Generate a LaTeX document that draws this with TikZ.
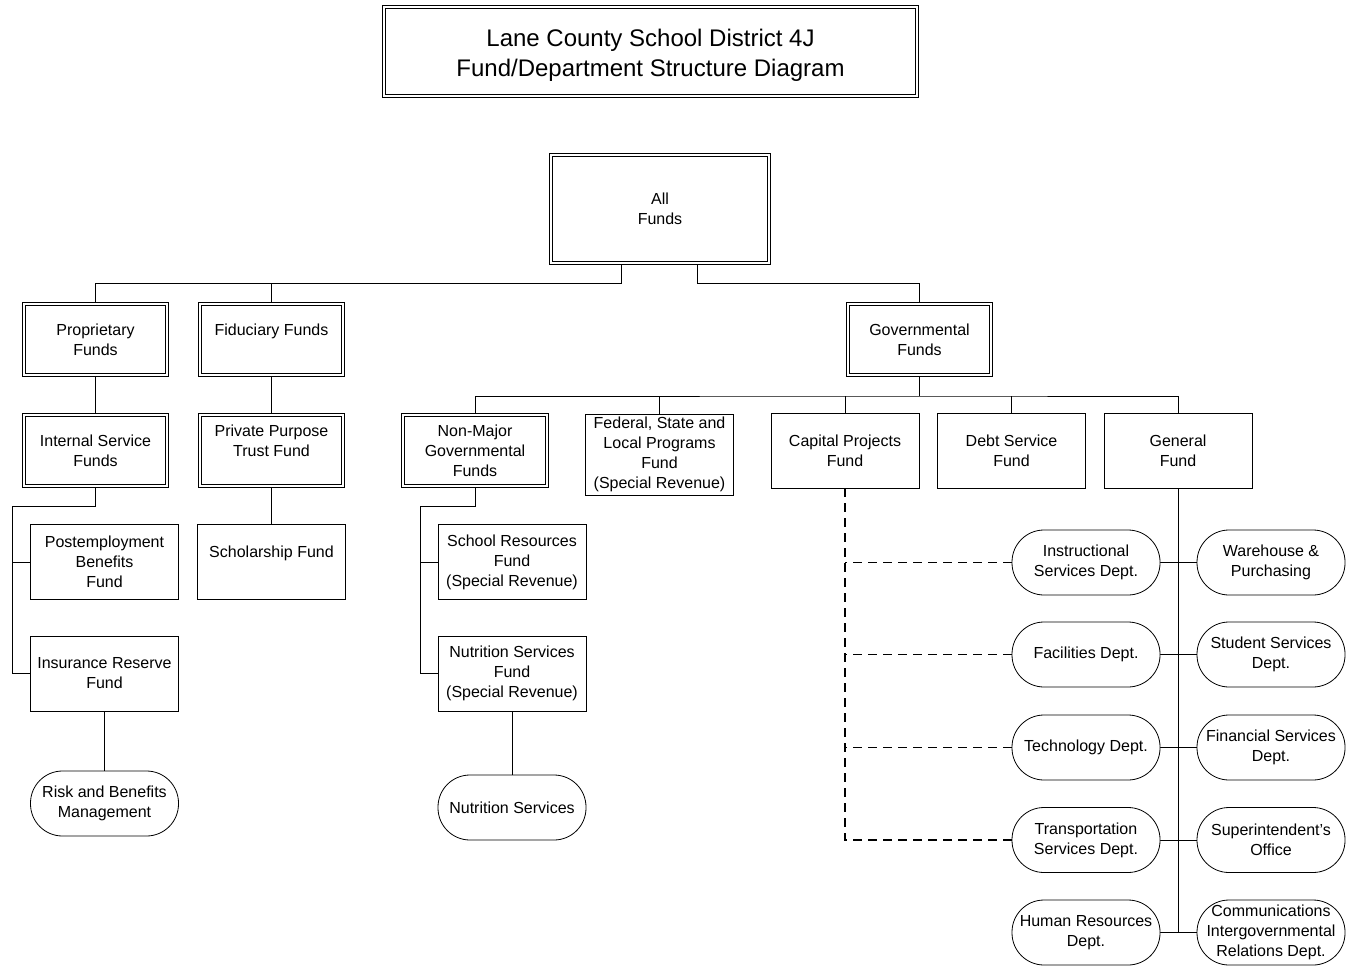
\documentclass[tikz,border=0pt]{standalone}
\usepackage{fontspec}
\setmainfont{Liberation Sans}
\usetikzlibrary{positioning}
\usetikzlibrary{calc}
\usetikzlibrary{backgrounds}
\newcommand{\fnode}[4]{\node(#1)[#2] at (#3) {#4}}

\begin{document}
\begin{tikzpicture}[
        x=1pt, y=-1pt,
        every node/.style={font=\fontsize{16}{20}\selectfont},
        fund/.style={rectangle,draw=black,fill=white,line width=0.8pt,inner sep=0pt,
                     align=center,minimum width=148pt,minimum height=75pt},
        dfund/.style={fund,double,double distance=2pt,minimum width=143.5pt,minimum height=71.5pt},
        dept/.style={fund,rounded corners=32pt,minimum height=65pt},
        link/.style={draw=black,line width=0.8pt},
        dashlink/.style={draw=black,line width=1.9pt,dash pattern=on 9pt off 6pt}
      ]
      \useasboundingbox (0,0) rectangle (1351,966);

      % title and top level
      \fnode{title}{dfund,minimum width=533pt,minimum height=89pt,font=\fontsize{24}{30}\selectfont}{650.5,51.5}{\rule{0pt}{25pt}Lane County School District 4J\\Fund/Department Structure Diagram};
      \fnode{all}{dfund,minimum width=218pt,minimum height=108pt}{660,209}{All\\Funds};
      \fnode{prop}{dfund}{95.5,339.5}{Proprietary\\Funds};
      \fnode{fid}{dfund}{271.5,339.5}{Fiduciary Funds\\[-6pt]\strut};
      \fnode{gov}{dfund}{919.5,339.5}{Governmental\\Funds};

      % funds
      \fnode{int}{dfund}{95.5,450.5}{Internal Service\\Funds};
      \fnode{priv}{dfund}{271.5,450.5}{Private Purpose\\Trust Fund\\[-6pt]\strut};
      \fnode{nonmaj}{dfund}{475,450.5}{Non-Major\\Governmental\\Funds};
      \fnode{fed}{fund,minimum height=81pt}{659.5,454.5}{Federal, State and\\Local Programs\\Fund\\(Special Revenue)};
      \fnode{cap}{fund}{845,450.5}{Capital Projects\\Fund};
      \fnode{debt}{fund}{1011.5,450.5}{Debt Service\\Fund};
      \fnode{gen}{fund}{1178,450.5}{General\\Fund};
      \fnode{post}{fund}{104.5,562}{Postemployment\\Benefits\\Fund};
      \fnode{schol}{fund}{271.5,562}{Scholarship Fund\\[-6pt]\strut};
      \fnode{insur}{fund}{104.5,673.5}{Insurance Reserve\\Fund};
      \fnode{schres}{fund}{512,562}{School Resources\\Fund\\(Special Revenue)};
      \fnode{nutfund}{fund}{512,673.5}{Nutrition Services\\Fund\\(Special Revenue)};

      % departments
      \fnode{risk}{dept}{104.5,803.5}{Risk and Benefits\\Management};
      \fnode{nutsvc}{dept}{512,807.5}{Nutrition Services};
      \fnode{instr}{dept}{1086,562.5}{Instructional\\Services Dept.};
      \fnode{facil}{dept}{1086,654.5}{Facilities Dept.};
      \fnode{tech}{dept}{1086,747.5}{Technology Dept.};
      \fnode{transp}{dept}{1086,840}{Transportation\\Services Dept.};
      \fnode{hr}{dept}{1086,932.5}{Human Resources\\Dept.};
      \fnode{wareh}{dept}{1271,562.5}{Warehouse \&\\Purchasing};
      \fnode{stud}{dept}{1271,654.5}{Student Services\\Dept.};
      \fnode{fin}{dept}{1271,747.5}{Financial Services\\Dept.};
      \fnode{supt}{dept}{1271,840}{Superintendent’s\\Office};
      \fnode{comm}{dept}{1271,932.5}{Communications\\Intergovernmental\\Relations Dept.};

      \begin{scope}[on background layer]
        \coordinate (allL) at (621,283);
        \coordinate (allR) at (697,283);
        \draw[link] ([xshift=-39pt]all.south) -- (allL) -| (prop.north);
        \draw[link] (allL) -| (fid.north);
        \draw[link] ([xshift=37pt]all.south) -- (allR) -| (gov.north);

        \draw[link] (prop.south) -- (int.north);
        \draw[link] (fid.south) -- (priv.north);
        \draw[link] (priv.south) -- (schol.north);
        \coordinate (intJ) at (12,506);
        \draw[link] (int.south) |- (intJ) |- (insur.west);
        \draw[link] (intJ) |- (post.west);
        \draw[link] (insur.south) -- (risk.north);

        \coordinate (govJ) at (919.5,396);
        \draw[link] (gov.south) -- (govJ);
        \draw[link] (nonmaj.north) |- (govJ) -| (gen.north);
        \foreach \n in {fed,cap,debt} \draw[link] (\n.north) -- (\n.north |- govJ);

        \coordinate (nmJ) at (420,506);
        \draw[link] (nonmaj.south) |- (nmJ) |- (nutfund.west);
        \draw[link] (nmJ) |- (schres.west);
        \draw[link] (nutfund.south) -- (nutsvc.north);

        \draw[dashlink] (cap.south) |- (transp.west);
        \foreach \n in {instr,facil,tech} \draw[dashlink] (\n.west) -- (\n.west -| cap.south);

        \draw[link] (gen.south) -- (gen.south |- hr.east);
        \foreach \a/\b in {instr/wareh,facil/stud,tech/fin,transp/supt,hr/comm}
          \draw[link] (\a.east) -- (\b.west);
      \end{scope}
    \end{tikzpicture}
\end{document}
